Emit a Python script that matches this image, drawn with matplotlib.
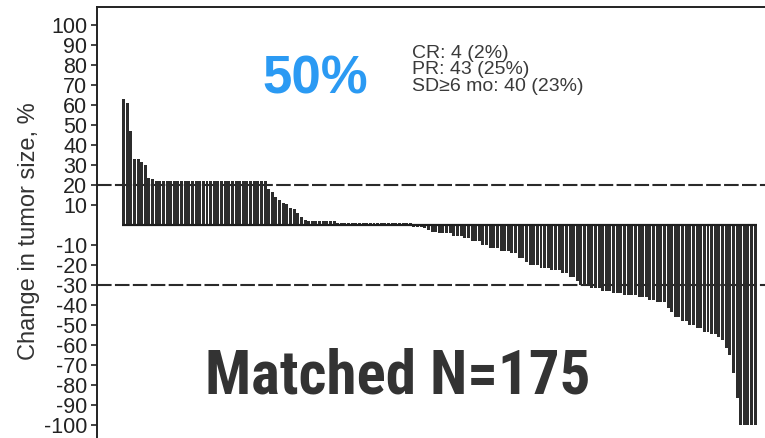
import matplotlib
matplotlib.use("Agg")
import matplotlib.pyplot as plt
from matplotlib import font_manager as fm
import numpy as np

# ---- data ----
change = [
    63, 61, 47, 33, 33, 31.5, 30, 23.5, 23,
    22, 22, 22, 22, 22, 22, 22, 22, 22, 22,
    22, 22, 22, 22, 22, 22, 22, 22, 22, 22,
    22, 22, 22, 22, 22, 22, 22, 22, 22, 22, 22,
    18, 16.5, 14, 12.5, 11, 10.5, 8.5, 8, 6, 4, 2.5,
    2, 2, 2, 2, 2, 2, 2, 2,
    0.8, 0.8, 0.8, 0.8, 0.8, 0.8, 0.8, 0.8, 0.8, 0.8,
    0.8, 0.8, 0.8, 0.8, 0.8, 0.8, 0.8, 0.8, 0.8, 0.8, 0.8,
    -0.8, -0.8, -0.8, -1.7, -2.5, -3.3, -3.3, -4.2, -4.2, -4.2, -4.2,
    -5.3, -5.3, -5.3, -6.7, -6.7, -8, -8, -8, -10, -10,
    -11.7, -11.7, -11.7, -13, -13, -13, -14.2, -14.2, -16.7, -16.7, -18.3,
    -20, -20, -20, -21.3, -21.3, -21.3, -22.5, -22.5, -22.5, -24, -24,
    -25.8, -25.8, -27.8,
    -30, -30, -30, -31.3, -31.3, -31.3, -33, -33, -33, -34.2, -34.2, -34.2,
    -35, -35, -35, -35, -35.8, -35.8, -35.8, -37.5, -37.5, -38.7, -38.7, -38.7,
    -41.7, -43.3, -45.8, -45.8, -48, -48, -50, -50, -51.7, -51.7,
    -53.3, -53.3, -54.7, -54.7, -55.8, -57.5, -61.7, -65, -74, -86.7,
    -100, -100, -100, -100, -100,
]
ytick_values = [100, 90, 80, 70, 60, 50, 40, 30, 20, 10,
                -10, -20, -30, -40, -50, -60, -70, -80, -90, -100]
threshold_lines = [20, -30]
ylabel_text = "Change in tumor size, %"
headline = "50%"
footer = "Matched N=175"
summary_lines = ["CR: 4 (2%)", "PR: 43 (25%)", "SD\u22656 mo: 40 (23%)"]

W, H = 765, 438
fig = plt.figure(figsize=(W / 100, H / 100), dpi=100)
ax = fig.add_axes([97 / W, 0, 668 / W, 431 / H])

x = np.arange(len(change))
ax.bar(x, change, width=0.82, color="#2c2c2c", linewidth=0)
ax.plot([-0.5, len(change) - 0.5], [0, 0], color="#1e1e1e", lw=1.6,
        solid_capstyle="butt")
for yv in threshold_lines:
    ax.axhline(yv, color="#2a2a2a", lw=1.5, linestyle=(0, (7, 1.6)))

ax.set_xlim(-7.3, 176.7)
ax.set_ylim(-106.5, 109)
ax.set_xticks([])
ax.set_yticks(ytick_values)
ax.set_yticklabels([str(v) for v in ytick_values],
                   fontfamily="Liberation Sans", color="#222222")
ax.tick_params(axis="y", direction="out", length=4, width=1.2,
               labelsize=15.5, pad=3, color="#222222")
for s in ["right", "bottom"]:
    ax.spines[s].set_visible(False)
for s in ["left", "top"]:
    ax.spines[s].set_linewidth(1.4)
    ax.spines[s].set_color("#222222")

ax.set_ylabel(ylabel_text, fontsize=17, fontfamily="Liberation Sans",
              color="#333333")
ax.yaxis.set_label_coords(-0.086, 0.48)

fig.text(262 / W, 1 - 93 / H, headline, fontsize=38, fontweight="bold",
         color="#2b9af3", fontfamily="Liberation Sans", va="baseline",
         ha="left")

# condensed bold font for the footer if one is installed
entries = fm.fontManager.ttflist
names = {f.name for f in entries}
footer_kw = dict(family="Liberation Sans")
for cand in ["Liberation Sans Narrow", "Roboto Condensed",
             "Open Sans Condensed", "Noto Sans Display", "Arial Narrow"]:
    if cand in names:
        footer_kw = dict(family=cand)
        break
else:
    for fam in ["DejaVu Sans", "Noto Sans", "Open Sans", "Roboto"]:
        if any(f.name == fam and str(f.stretch) in ("condensed", "semi-condensed", "extra-condensed")
               for f in entries):
            footer_kw = dict(family=fam, stretch="condensed")
            break

ft = fig.text(205 / W, 1 - 393 / H, footer, fontsize=46, fontweight="bold",
              color="#333333", va="baseline", ha="left", **footer_kw)
fig.canvas.draw()
wpx = ft.get_window_extent().width
ft.set_fontsize(46 * 385 / wpx)

for k, line in enumerate(summary_lines):
    fig.text(412 / W, 1 - (58 + 16.5 * k) / H, line, fontsize=14,
             color="#3a3a3a", fontfamily=["Liberation Sans", "DejaVu Sans"],
             va="baseline", ha="left")

fig.savefig("out.png", dpi=100)
